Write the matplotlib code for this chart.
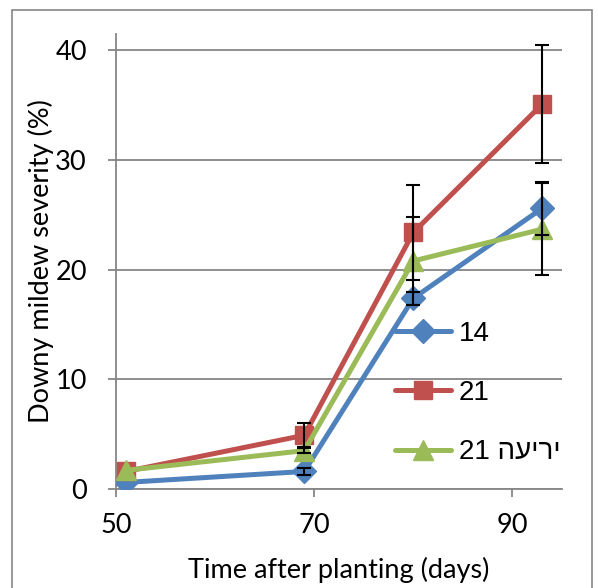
import matplotlib
matplotlib.use('Agg')
import matplotlib.pyplot as plt
from matplotlib.patches import Rectangle

# days after planting
days = [51, 69, 80, 93]

sev_14 = [0.6, 1.6, 17.4, 25.6]
sev_21 = [1.6, 4.9, 23.4, 35.1]
sev_21s = [1.7, 3.5, 20.8, 23.7]

err_14 = [0.0, 0.3, 0.6, 2.4]
err_21 = [0.0, 1.1, 4.3, 5.4]
err_21s = [0.0, 0.2, 4.0, 4.2]

labels = ['14', '21', '21 ' + 'יריעה'[::-1]]

blue = '#4F81BD'
red = '#C0504D'
green = '#9BBB59'
grid_col = '#868686'

plt.rcParams['font.family'] = ['Lato', 'DejaVu Sans']

fig = plt.figure(figsize=(5.98, 5.88), dpi=100)
ax = fig.add_axes([116 / 598, 1 - 489 / 588, (562 - 116) / 598, (489 - 34) / 588])

# outer chart border
fig.patches.append(Rectangle((12 / 598, -0.05), (592 - 12) / 598, 1.05 - 10 / 588,
                             transform=fig.transFigure, fill=False,
                             edgecolor=grid_col, linewidth=1.2))

series = [(sev_14, err_14, blue, 'D', 12), (sev_21, err_21, red, 's', 13),
          (sev_21s, err_21s, green, '^', 14)]
for (vals, errs, col, mk, ms), lab in zip(series, labels):
    ax.plot(days, vals, color=col, linewidth=3.6, marker=mk, markersize=ms,
            markeredgecolor=col, label=lab, zorder=3, solid_capstyle='round')
for vals, errs, col, mk, ms in series:
    # first visit has no visible error bar
    ax.errorbar(days[1:], vals[1:], yerr=errs[1:], fmt='none', ecolor='black',
                elinewidth=1.5, capsize=5, capthick=1.5, zorder=4)

ax.set_xlim(50, 95)
ax.set_ylim(0, 41.5)
ax.set_xticks([50, 70, 90])
ax.set_yticks([0, 10, 20, 30, 40])
ax.yaxis.grid(True, color=grid_col, linewidth=1.3)
ax.set_axisbelow(True)
for s in ['top', 'right']:
    ax.spines[s].set_visible(False)
for s in ['left', 'bottom']:
    ax.spines[s].set_color(grid_col)
    ax.spines[s].set_linewidth(1.3)
ax.tick_params(direction='out', length=6, width=1.3, color=grid_col,
               labelsize=19.5)
ax.tick_params(axis='y', pad=15)
ax.tick_params(axis='x', pad=11)

ax.set_xlabel('Time after planting (days)', fontsize=19.5, labelpad=14)
ax.set_ylabel('Downy mildew severity (%)', fontsize=19.5, labelpad=1)

leg = ax.legend(loc='upper left', bbox_to_anchor=(0.57, 0.425), frameon=False,
                handlelength=2.0, labelspacing=1.2, handletextpad=0.3,
                prop={'family': ['Liberation Sans', 'DejaVu Sans'], 'size': 20})

fig.savefig('out.png', dpi=100)
